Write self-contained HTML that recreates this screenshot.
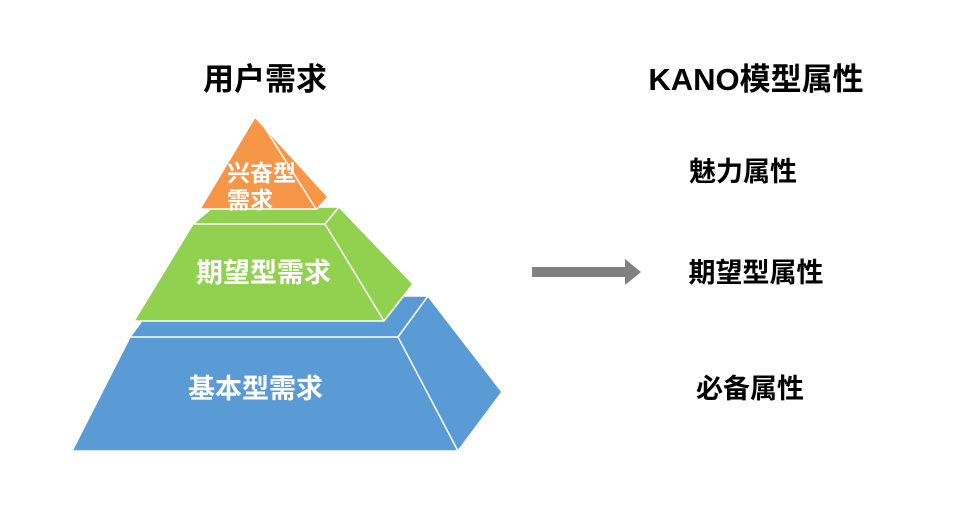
<!DOCTYPE html>
<html><head><meta charset="utf-8"><style>
body{margin:0;background:#fff;width:972px;height:503px;overflow:hidden}
svg text{font-family:"Liberation Sans","Noto Sans CJK SC",sans-serif;font-weight:bold}
</style></head><body>
<svg width="972" height="503" viewBox="0 0 972 503">
<polygon points="72,451 130,337 160,296 428,296 502,392 458,451" fill="#5b9bd5" stroke="#fff" stroke-width="1.5"/>
<polyline points="130,337 398,337 458,451" fill="none" stroke="#fff" stroke-width="1.5"/>
<line x1="398" y1="337" x2="428" y2="296" stroke="#fff" stroke-width="1.5"/>
<polygon points="134,321 193,224 213,207 339,207 413,284 384,321" fill="#92d050" stroke="#fff" stroke-width="1.5"/>
<polyline points="193,224 325,224 384,321" fill="none" stroke="#fff" stroke-width="1.5"/>
<line x1="325" y1="224" x2="339" y2="207" stroke="#fff" stroke-width="1.5"/>
<polygon points="255,117 200,209 317,209 328,197" fill="#f79646" stroke="#fff" stroke-width="1.5"/>
<line x1="258" y1="117" x2="316" y2="209" stroke="#fff" stroke-width="1.5"/>
<text x="227" y="181" font-size="23" fill="#fff">兴奋型</text>
<text x="227" y="208" font-size="23" fill="#fff">需求</text>
<text x="196" y="282" font-size="27" fill="#fff">期望型需求</text>
<text x="188" y="398" font-size="27" fill="#fff">基本型需求</text>
<text x="265" y="90" font-size="31" fill="#000" text-anchor="middle">用户需求</text>
<text x="756" y="90" font-size="31" fill="#000" text-anchor="middle">KANO模型属性</text>
<text x="743" y="181" font-size="27" fill="#000" text-anchor="middle">魅力属性</text>
<text x="756" y="282" font-size="27" fill="#000" text-anchor="middle">期望型属性</text>
<text x="750" y="398" font-size="27" fill="#000" text-anchor="middle">必备属性</text>
<rect x="532" y="267" width="94" height="10" fill="#808080"/>
<polygon points="625,259 641,272 625,285" fill="#808080"/>
</svg>
</body></html>
